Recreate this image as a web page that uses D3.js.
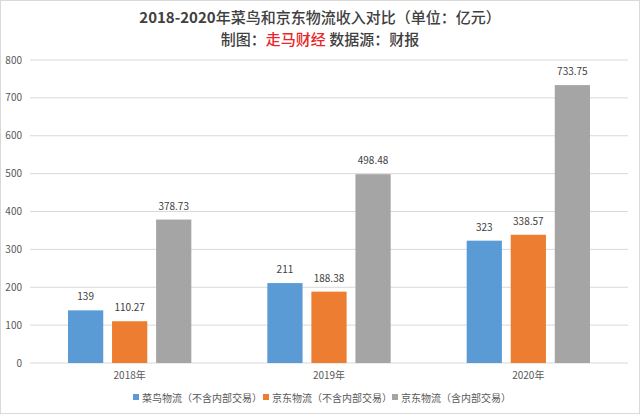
<!DOCTYPE html>
<html>
<head>
<meta charset="utf-8">
<script src="https://cdn.jsdelivr.net/npm/d3@7"></script>
<style>
  body { margin: 0; background: #fff; }
  svg { display: block; font-family: "Noto Sans CJK SC", "Noto Sans", sans-serif; }
</style>
</head>
<body>
<div id="container"></div>
<script>
const years = ['2018年', '2019年', '2020年'];
const seriesNames = ['菜鸟物流（不含内部交易）', '京东物流（不含内部交易）', '京东物流（含内部交易）'];
const cainiao = [139, 211, 323];
const jdExcl = [110.27, 188.38, 338.57];
const jdIncl = [378.73, 498.48, 733.75];
const yTicks = [0, 100, 200, 300, 400, 500, 600, 700, 800];
const colors = ['#5B9BD5', '#ED7D31', '#A5A5A5'];

const W = 640, H = 414;
const margin = { top: 60, right: 12, bottom: 51, left: 30 };
const width = W - margin.left - margin.right,
  height = H - margin.top - margin.bottom;

const svg = d3.select('#container').append('svg')
  .attr('width', W)
  .attr('height', H);

svg.append('rect')
  .attr('x', 0.5).attr('y', 0.5)
  .attr('width', W - 1).attr('height', H - 1)
  .attr('fill', '#fff')
  .attr('stroke', '#d9d9d9');

// title
const title = svg.append('text')
  .attr('x', W / 2).attr('y', 23)
  .attr('text-anchor', 'middle')
  .attr('font-size', 15)
  .attr('fill', '#404040');
title.append('tspan').attr('font-weight', 'bold').text('2018-2020');
title.append('tspan').attr('font-weight', 500).text('年菜鸟和京东物流收入对比（单位：亿元）');

const sub = svg.append('text')
  .attr('x', W / 2).attr('y', 45)
  .attr('text-anchor', 'middle')
  .attr('font-size', 15).attr('font-weight', 500)
  .attr('fill', '#404040');
sub.append('tspan').text('制图：');
sub.append('tspan').attr('fill', '#e8262a').text('走马财经');
sub.append('tspan').text(' 数据源：财报');

const c = svg.append('g')
  .attr('transform', `translate(${margin.left},${margin.top})`);

const x0 = d3.scaleBand().domain(years).range([0, width]);
const x1 = d3.scaleBand().domain(seriesNames).range([38, x0.bandwidth() - 38]).paddingInner(0.2);
const yScale = d3.scaleLinear().domain([0, 800]).range([height, 0]);

// gridlines
c.append('g')
  .selectAll('line')
  .data(yTicks)
  .join('line')
  .attr('x1', 0).attr('x2', width)
  .attr('y1', d => yScale(d)).attr('y2', d => yScale(d))
  .attr('stroke', '#d9d9d9');

// y labels
c.append('g')
  .selectAll('text')
  .data(yTicks)
  .join('text')
  .attr('x', -8).attr('y', d => yScale(d))
  .attr('dy', '0.35em')
  .attr('text-anchor', 'end')
  .attr('font-size', 10)
  .attr('fill', '#595959')
  .text(d => d);

const table = years.map((yr, i) => ({
  year: yr,
  values: [cainiao[i], jdExcl[i], jdIncl[i]].map((v, k) => ({ name: seriesNames[k], v, k }))
}));

const groups = c.append('g').selectAll('g')
  .data(table)
  .join('g')
  .attr('transform', d => `translate(${x0(d.year)},0)`);

groups.selectAll('rect')
  .data(d => d.values)
  .join('rect')
  .attr('x', d => x1(d.name))
  .attr('width', x1.bandwidth())
  .attr('y', d => yScale(d.v))
  .attr('height', d => height - yScale(d.v))
  .attr('fill', d => colors[d.k]);

groups.selectAll('text.val')
  .data(d => d.values)
  .join('text')
  .attr('class', 'val')
  .attr('x', d => x1(d.name) + x1.bandwidth() / 2)
  .attr('y', d => yScale(d.v) - 10)
  .attr('text-anchor', 'middle')
  .attr('font-size', 10)
  .attr('fill', '#404040')
  .text(d => d.v);

// x labels
c.append('g')
  .selectAll('text')
  .data(years)
  .join('text')
  .attr('x', d => x0(d) + x0.bandwidth() / 2)
  .attr('y', height + 16)
  .attr('text-anchor', 'middle')
  .attr('font-size', 10)
  .attr('fill', '#595959')
  .text(d => d);

// legend
const legendX = [133, 263, 392];
const legend = svg.append('g').selectAll('g')
  .data(seriesNames)
  .join('g')
  .attr('transform', (d, i) => `translate(${legendX[i]},398)`);
legend.append('rect')
  .attr('x', 0).attr('y', -4)
  .attr('width', 6).attr('height', 6)
  .attr('fill', (d, i) => colors[i]);
legend.append('text')
  .attr('x', 9).attr('y', 0)
  .attr('dy', '0.35em')
  .attr('font-size', 10)
  .attr('fill', '#595959')
  .text(d => d);
</script>
</body>
</html>
